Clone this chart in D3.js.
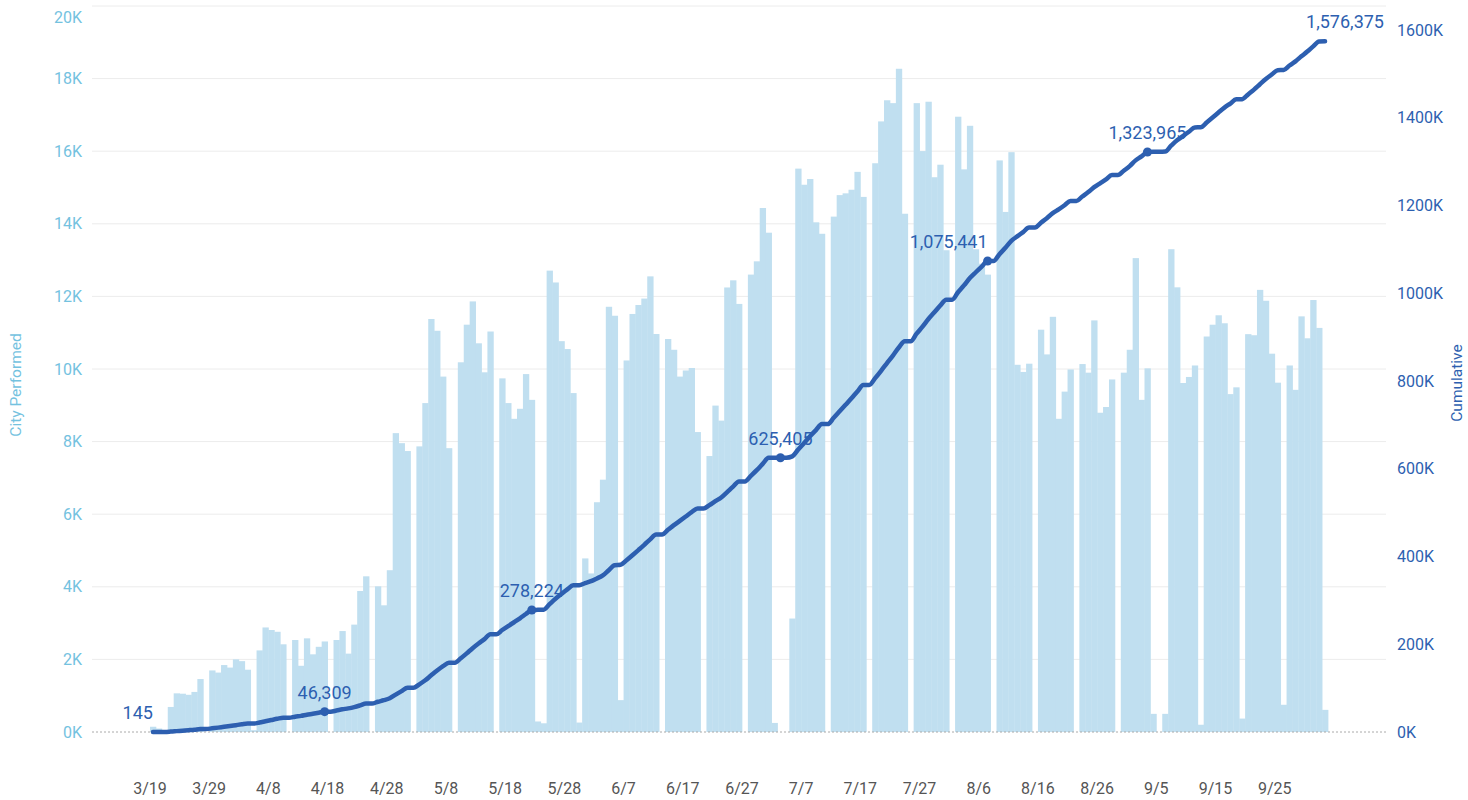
<!DOCTYPE html>
<html>
<head>
<meta charset="utf-8">
<script src="https://cdn.jsdelivr.net/npm/d3@7"></script>
<style>
  body { margin: 0; background: #fff; }
  text { font-family: Roboto, "Noto Sans", sans-serif; }
</style>
</head>
<body>
<svg id="svg" width="1468" height="800"></svg>
<script>
// one bar per day, 3/19 .. 10/3
const dates = d3.timeDay.range(new Date(2020, 2, 19), new Date(2020, 9, 4));

const cityPerformed = [
  145, 95, 0, 690, 1065, 1055, 1025, 1104, 1459, 0,
  1696, 1637, 1844, 1775, 2002, 1952, 1716, 50, 2248, 2880,
  2810, 2761, 2416, 0, 2534, 1824, 2580, 2140, 2347, 2494,
  0, 2534, 2781, 2159, 2958, 3885, 4289, 0, 4013, 3490,
  4457, 8233, 7957, 7740, 0, 7868, 9061, 11378, 11053, 9791,
  7819, 0, 10185, 11221, 11862, 10708, 9909, 11033, 0, 9742,
  9061, 8628, 8904, 9860, 9150, 290, 240, 12710, 12384, 10767,
  10550, 9337, 260, 4782, 4368, 6330, 6951, 11714, 11467, 878,
  10235, 11516, 11763, 11940, 12552, 10964, 0, 10826, 10530, 9791,
  9959, 10028, 8263, 0, 7602, 8992, 8578, 12246, 12443, 11793,
  0, 12601, 12966, 14435, 13755, 250, 0, 0, 3126, 15520,
  15076, 15234, 14041, 13725, 0, 14198, 14790, 14839, 14938, 15431,
  14741, 0, 15668, 16821, 17403, 17324, 18271, 14277, 0, 17324,
  16003, 17363, 15283, 15628, 13272, 0, 16950, 15500, 16700, 13300,
  12900, 12600, 0, 15746, 14327, 15973, 10116, 9919, 10146, 0,
  11083, 10402, 11438, 8628, 9377, 9988, 0, 10136, 9899, 11339,
  8795, 8953, 9712, 0, 9899, 10530, 13055, 9150, 10018, 500,
  0, 500, 13300, 12250, 9614, 9781, 10097, 200, 10895, 11220,
  11480, 11260, 9308, 9495, 370, 10960, 10930, 12180, 11880, 10422,
  9623, 750, 10097, 9426, 11450, 10846, 11900, 11132, 610
];

// labelled points on the cumulative line
const annotDays = [0, 29, 64, 106, 141, 168, 198];
const annotLabels = ["145", "46,309", "278,224", "625,405", "1,075,441", "1,323,965", "1,576,375"];
const annotAnchor = ["end", "middle", "middle", "middle", "end", "middle", "middle"];
const annotShift = [0, 0, 0, 0, 0, 0, 20];
const annotDot = [false, true, true, true, true, true, false];

const leftTicks = d3.range(0, 20001, 2000);
const rightTicks = d3.range(0, 1600001, 200000);
const dateTicks = d3.range(0, dates.length, 10);

const cumulative = d3.cumsum(cityPerformed);

let svg = d3.select("#svg");

const plotLeft = 92, plotRight = 1386;

let x = d3.scaleBand()
  .domain(d3.range(dates.length))
  .range([150, 1328])
  .paddingInner(0);

let yL = d3.scaleLinear().domain([0, 20000]).range([732, 6]);
let yR = d3.scaleLinear().domain([0, 1600000]).range([732, 30]);

const lightBlue = "#74c2df";
const darkBlue = "#2d5fb0";
const fmtDate = d3.timeFormat("%-m/%-d");

/* Grid */
svg.append("g")
  .selectAll("line")
  .data(leftTicks.filter(d => d > 0))
  .join("line")
  .attr("x1", plotLeft)
  .attr("x2", plotRight)
  .attr("y1", d => yL(d))
  .attr("y2", d => yL(d))
  .attr("stroke", "#ececec")
  .attr("stroke-width", 1);

/* Bars */
svg.append("g")
  .selectAll("rect")
  .data(cityPerformed)
  .join("rect")
  .attr("x", (d, i) => x(i))
  .attr("width", x.bandwidth() + 0.4)
  .attr("y", d => yL(d))
  .attr("height", d => yL(0) - yL(d))
  .attr("fill", "#c0dff0");

/* Zero line */
svg.append("line")
  .attr("x1", plotLeft)
  .attr("x2", plotRight)
  .attr("y1", yL(0))
  .attr("y2", yL(0))
  .attr("stroke", "#aaa")
  .attr("stroke-dasharray", "2,2");

/* Left axis */
let leftAxis = svg.append("g")
  .attr("transform", "translate(82,0)")
  .call(d3.axisLeft(yL).tickValues(leftTicks).tickSize(0).tickPadding(0)
    .tickFormat(d => d / 1000 + "K"));
leftAxis.select(".domain").remove();
leftAxis.selectAll("text")
  .attr("fill", lightBlue)
  .style("font-size", "16px")
  .style("font-family", "Roboto, sans-serif");
// top label sits a little lower than its grid line
leftAxis.selectAll(".tick")
  .filter(d => d === 20000)
  .select("text")
  .attr("dy", "1.05em");

/* Right axis */
let rightAxis = svg.append("g")
  .attr("transform", "translate(1397,0)")
  .call(d3.axisRight(yR).tickValues(rightTicks).tickSize(0).tickPadding(0)
    .tickFormat(d => d / 1000 + "K"));
rightAxis.select(".domain").remove();
rightAxis.selectAll("text")
  .attr("fill", darkBlue)
  .style("font-size", "16px")
  .style("font-family", "Roboto, sans-serif");

/* Date axis */
let bottomAxis = svg.append("g")
  .attr("transform", "translate(-3,783)")
  .call(d3.axisBottom(x).tickValues(dateTicks).tickSize(0).tickPadding(0)
    .tickFormat(i => fmtDate(dates[i])));
bottomAxis.select(".domain").remove();
bottomAxis.selectAll("text")
  .attr("fill", "#555")
  .style("font-size", "16px")
  .style("font-family", "Roboto, sans-serif");

/* Axis titles */
svg.append("text")
  .attr("transform", "translate(21,385) rotate(-90)")
  .attr("text-anchor", "middle")
  .attr("fill", lightBlue)
  .style("font-size", "15.5px")
  .text("City Performed");

svg.append("text")
  .attr("transform", "translate(1462,383) rotate(-90)")
  .attr("text-anchor", "middle")
  .attr("fill", darkBlue)
  .style("font-size", "15.5px")
  .text("Cumulative");

/* Cumulative line */
const cx = i => x(i) + x.bandwidth() / 2;

let line = d3.line()
  .x((d, i) => cx(i))
  .y(d => yR(d))
  .curve(d3.curveMonotoneX);

svg.append("path")
  .datum(cumulative)
  .attr("d", line)
  .attr("fill", "none")
  .attr("stroke", darkBlue)
  .attr("stroke-width", 4.5)
  .attr("stroke-linejoin", "round")
  .attr("stroke-linecap", "round");

/* Markers + labels */
annotDays.forEach((day, k) => {
  if (annotDot[k]) {
    svg.append("circle")
      .attr("cx", cx(day))
      .attr("cy", yR(cumulative[day]))
      .attr("r", 4.5)
      .attr("fill", darkBlue);
  }

  svg.append("text")
    .attr("x", cx(day) + annotShift[k])
    .attr("y", yR(cumulative[day]) - 13)
    .attr("text-anchor", annotAnchor[k])
    .attr("fill", darkBlue)
    .style("font-size", "18px")
    .text(annotLabels[k]);
});
</script>
</body>
</html>
